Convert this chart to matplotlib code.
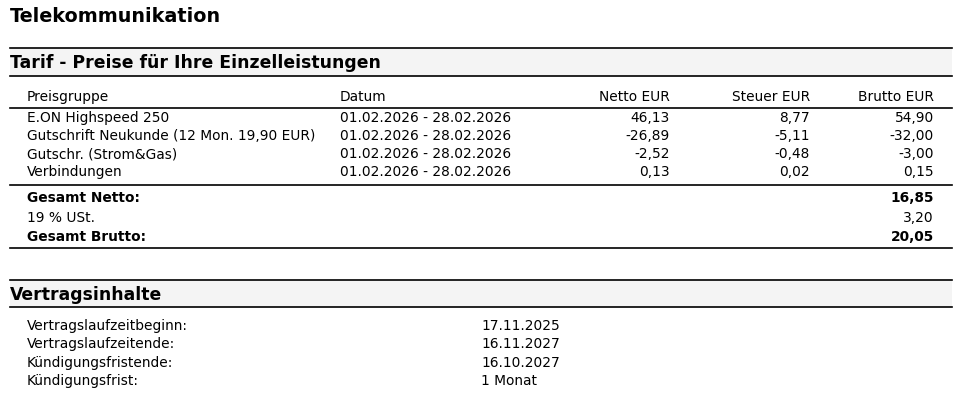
import matplotlib
matplotlib.use("Agg")
import matplotlib.pyplot as plt

plt.rcParams['font.family'] = ['DejaVu Sans']

# Tabellendaten
columns = ["Preisgruppe", "Datum", "Netto EUR", "Steuer EUR", "Brutto EUR"]
groups = ["E.ON Highspeed 250",
          "Gutschrift Neukunde (12 Mon. 19,90 EUR)",
          "Gutschr. (Strom&Gas)",
          "Verbindungen"]
dates = ["01.02.2026 - 28.02.2026"] * 4
netto = [46.13, -26.89, -2.52, 0.13]
steuer = [8.77, -5.11, -0.48, 0.02]
brutto = [54.90, -32.00, -3.00, 0.15]

total_labels = ["Gesamt Netto:", "19 % USt.", "Gesamt Brutto:"]
total_values = [16.85, 3.20, 20.05]
total_bold = [True, False, True]

contract_labels = ["Vertragslaufzeitbeginn:", "Vertragslaufzeitende:",
                   "Kündigungsfristende:", "Kündigungsfrist:"]
contract_values = ["17.11.2025", "16.11.2027", "16.10.2027", "1 Monat"]


def eur(v):
    return f"{v:.2f}".replace(".", ",")


W, H = 962, 400
fig = plt.figure(figsize=(W / 100, H / 100), dpi=100)
ax = fig.add_axes([0, 0, 1, 1])
ax.set_xlim(0, W)
ax.set_ylim(H, 0)
ax.axis('off')

body = 9.9
left, right = 10, 952

# Haupttitel
ax.text(left, 16, "Telekommunikation", fontsize=13.8, fontweight='bold', va='center')


def band(y0, y1, title):
    ax.fill_between([left, right], y0, y1, color='#f4f4f4', lw=0)
    ax.plot([left, right], [y0, y0], color='black', lw=1.2)
    ax.plot([left, right], [y1, y1], color='black', lw=1.2)
    ax.text(left, (y0 + y1) / 2 + 1, title, fontsize=12.45, fontweight='bold', va='center')


band(48, 76, "Tarif - Preise für Ihre Einzelleistungen")

# Spaltenpositionen
col_x = [27, 340, 670, 810, 934]
col_ha = ['left', 'left', 'right', 'right', 'right']

for x, ha, c in zip(col_x, col_ha, columns):
    ax.text(x, 97, c, fontsize=body, ha=ha, va='center')
ax.plot([left, right], [108, 108], color='black', lw=1.2)

row_y0, row_dy = 118, 18
for i in range(len(groups)):
    y = row_y0 + i * row_dy
    cells = [groups[i], dates[i], eur(netto[i]), eur(steuer[i]), eur(brutto[i])]
    for x, ha, c in zip(col_x, col_ha, cells):
        ax.text(x, y, c, fontsize=body, ha=ha, va='center')
ax.plot([left, right], [185, 185], color='black', lw=1.2)

for y, lab, val, b in zip([198, 218, 237], total_labels, total_values, total_bold):
    w = 'bold' if b else 'normal'
    ax.text(col_x[0], y, lab, fontsize=body, fontweight=w, va='center')
    ax.text(col_x[4], y, eur(val), fontsize=body, fontweight=w, ha='right', va='center')
ax.plot([left, right], [248, 248], color='black', lw=1.2)

band(280, 307, "Vertragsinhalte")

for i, (lab, val) in enumerate(zip(contract_labels, contract_values)):
    y = 326 + i * 18.3
    ax.text(col_x[0], y, lab, fontsize=body, va='center')
    ax.text(481, y, val, fontsize=body, va='center')

fig.savefig("out.png", dpi=100, facecolor='white')
